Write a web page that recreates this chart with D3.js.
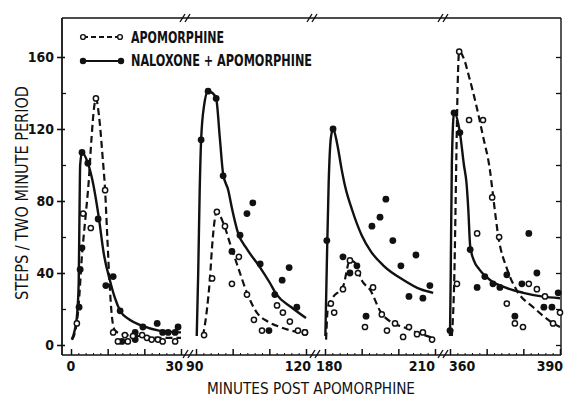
<!DOCTYPE html>
<html><head><meta charset="utf-8">
<script src="https://cdn.jsdelivr.net/npm/d3@7/dist/d3.min.js"></script>
<style>
html,body{margin:0;padding:0;background:#fff;}
text{font-family:"Liberation Sans Narrow","DejaVu Sans Condensed","Arial Narrow",sans-serif;font-weight:bold;fill:#111;}
</style></head><body>
<svg id="c" width="564" height="400"></svg>
<script>
// ---- data ----
const segments = [[0,30],[90,120],[180,210],[360,390]];
const yTickLabels = [0,40,80,120,160];
const xTickLabels = ["0","30","90","120","180","210","360","390"];
const xTickValues = [0,30,90,120,180,210,360,390];
const legendLabels = ["APOMORPHINE","NALOXONE + APOMORPHINE"];
const xTitle = "MINUTES POST APOMORPHINE";
const yTitle = "STEPS / TWO MINUTE PERIOD";

// Apomorphine (open circles)
const apoPointsT = [1.6,3.3,5.4,6.8,9.3,11.5,12.8,14.7,15.5,16.9,19.4,20.7,22,23.7,25,28.4,
  92.2,94.4,95.7,97.9,101.7,99.8,103.9,105.8,108,112.1,113.7,115.6,117.8,119.7,
  181.6,182.5,184.9,186.8,189,193.1,190.9,195.5,196.9,199.1,201.3,202.9,205.1,206.7,209.2,
  362.5,365.2,369,371.5,361.9,367.4,373.4,375.5,377.7,379.9,381.5,383.7,385.9,388.1,390];
const apoPointsV = [12,73,65,137,86,7,2,5.5,2,5,5.5,4,3,3,2,2,
  5.5,37,74,66,49,34,28,14,8,22,18,13,8,7,
  23,18,31,47,40,32,10,17,8,12,4.5,10,6,7,3,
  163,125,125,82,34,62,60,23,12,10,34,31,27,12,18];
// Naloxone + apomorphine (filled circles)
const nalPointsT = [2.2,2.5,3,3,4.6,7.4,9.5,11.5,13.4,13.9,17.5,17.5,19.6,23.5,25,26.5,28.4,29.2,
  93.3,95.5,91.4,97.4,105.5,103.9,102,99.8,107.5,115.4,113.5,111.5,117.5,109.9,119.7,
  182.2,180.5,184.9,186.8,188.7,191.2,192.8,195,196.6,198.5,200.7,204.8,202.9,206.7,208.6,
  360,361.1,362.7,365.5,369.5,367.4,371.7,373.6,375.5,377.7,379.6,381.5,383.7,385.6,387.8,389.5];
const nalPointsV = [21,42,54,107,101,70,33,38,19,2,7,3,10,12,7,7,7,10,
  141,137,114,94,79,73,61,52,45,43,36,28,21,8,7,
  120,58,49,40,44,16,66,71,81,58,44,50,27,26,33,
  8,129,118,53,38,32,34,32,39,16,34,62,40,21,21,29];

// fitted curves
const apoCurveT = [0.3,1.2,2,3,4,4.8,5.6,6.3,6.8,7.6,8.6,9.3,9.9,10.5,11.2,12,14,18,24,30,
  91.9,93,93.8,94.4,95,95.7,97.4,99.5,101.5,103.9,106.6,109.6,112.9,116,120,
  180.3,180.8,182,185,186.8,188,190,192.5,195,198.6,201.3,205,209.3,
  360.5,361.2,361.7,362.1,362.5,363.8,365.2,367.3,369,370.9,371.8,373.2,375.6,378.3,382.7,388.2,390];
const apoCurveV = [3,8,20,50,72,90,115,132,137,128,105,86,60,35,15,8,6,5,4,4,
  5,20,37,55,68,74,68,55,43,29,18,13,10,8,6,
  3,21,26,33,47,46,36,30,19,12,10,7,4,
  5,40,100,145,163,159,149,132,116,97,82,60,42,30,21,12,10];
const nalCurveT = [0.2,1,1.7,2.1,2.3,2.5,3,4.6,6,7.5,9,10.6,12,13.4,16,19,24,30,
  90.2,90.6,91,91.4,92.2,93.3,94.5,95.5,96.5,97.4,98.8,99.8,101.5,104,107.5,110,112,116,120,
  180.1,180.5,181,181.6,182.2,183.3,184.5,185.5,187.4,190,192.5,196,201.5,206,209.5,
  360,360.2,360.5,361.1,362.7,363.8,364.5,365,365.5,366.5,368,371,375,380,385,390];
const nalCurveV = [3,8,18,35,70,100,107,101,90,72,50,36,26,19,14,11,8,7,
  5,40,85,114,133,141,140,137,115,95,86,76,62,53,43,35,28,21,15,
  5,45,90,115,120,112,98,88,75,61,52,44,36,31,29,
  5,40,100,129,118,100,90,75,55,47,42,36,32,29,27,26];

// ---- drawing ----
const svg = d3.select("#c");
const x = d3.scaleLinear().domain([0,30,90,120,180,210,360,390]).range([71,181,196,306,325,435,450,560]);
const y = d3.scaleLinear().domain([0,160]).range([345,57]);
const L = 62, R = 561, T = 18, B = 355;
const ink = "#111";

// frame
svg.append("line").attr("x1",L).attr("x2",R).attr("y1",B).attr("y2",B).attr("stroke",ink).attr("stroke-width",1.6);
svg.append("line").attr("x1",L).attr("x2",R).attr("y1",T).attr("y2",T).attr("stroke",ink).attr("stroke-width",1.4);
svg.append("line").attr("x1",L).attr("x2",L).attr("y1",T).attr("y2",B).attr("stroke",ink).attr("stroke-width",1.8);
svg.append("line").attr("x1",R).attr("x2",R).attr("y1",T).attr("y2",B).attr("stroke",ink).attr("stroke-width",1.4);

// y axis (left)
const yAx = svg.append("g").attr("transform",`translate(${L},0)`)
  .call(d3.axisLeft(y).tickValues(yTickLabels).tickSize(5).tickPadding(3).tickFormat(d3.format("d")));
yAx.select(".domain").remove();
yAx.selectAll(".tick line").attr("stroke",ink).attr("stroke-width",1.6).attr("x2",-5).attr("x1",3);
yAx.selectAll(".tick text").attr("font-size",14).attr("fill",ink).attr("font-family",null);
const yMinor = svg.append("g").attr("transform",`translate(${L},0)`)
  .call(d3.axisRight(y).tickValues([20,60,100,140]).tickSize(4).tickFormat(""));
yMinor.select(".domain").remove();
yMinor.selectAll(".tick line").attr("stroke",ink).attr("stroke-width",1.3);
// right axis ticks
const yR = svg.append("g").attr("transform",`translate(${R},0)`)
  .call(d3.axisLeft(y).tickValues([0,20,40,60,80,100,120,140,160]).tickSize(5).tickFormat(""));
yR.select(".domain").remove();
yR.selectAll(".tick line").attr("stroke",ink).attr("stroke-width",1.3);

// x axis ticks per segment
segments.forEach(s=>{
  const major = d3.range(s[0], s[1]+0.1, 10);
  const minor = d3.range(s[0], s[1]+0.1, 2).filter(v=>(v-s[0])%10!==0);
  const gM = svg.append("g").attr("transform",`translate(0,${B})`)
    .call(d3.axisBottom(x).tickValues(major).tickSize(-6).tickFormat(""));
  gM.select(".domain").remove();
  gM.selectAll(".tick line").attr("stroke",ink).attr("stroke-width",1.5);
  const gm = svg.append("g").attr("transform",`translate(0,${B})`)
    .call(d3.axisBottom(x).tickValues(minor).tickSize(-2).tickFormat(""));
  gm.select(".domain").remove();
  gm.selectAll(".tick line").attr("stroke",ink).attr("stroke-width",1);
});
// x tick labels
const labAnchor = ["middle","end","start","end","start","end","start","end"];
const labShift = [0,2,-10,5,-9,0,-1,3];
svg.selectAll("text.xl").data(xTickLabels).join("text").attr("class","xl")
  .attr("x",(d,i)=>x(xTickValues[i])+labShift[i]).attr("y",371)
  .attr("text-anchor",(d,i)=>labAnchor[i]).attr("font-size",14).text(d=>d);

// axis break marks
function brk(cx, cy){
  [-2.5,2.5].forEach(o=>svg.append("line").attr("x1",cx+o-2.5).attr("y1",cy+4).attr("x2",cx+o+2.5).attr("y2",cy-4)
    .attr("stroke",ink).attr("stroke-width",1.4));
}
[[188,B-1],[315,B-1],[443,B-1],[185,T],[312,T],[443,T]].forEach(p=>brk(p[0],p[1]));

// curves
const clipLine = d3.line().x(d=>x(d[0])).y(d=>y(d[1])).curve(d3.curveMonotoneX);
function drawCurve(T_, V_, dashed){
  segments.forEach(s=>{
    const pts = T_.map((t,i)=>[t,V_[i]]).filter(p=>p[0]>=s[0]-0.01 && p[0]<=s[1]+0.01);
    svg.append("path").datum(pts).attr("d",clipLine).attr("fill","none").attr("stroke",ink)
      .attr("stroke-width",dashed?2.2:2.4).attr("stroke-dasharray",dashed?"7,4":null)
      .attr("stroke-linecap","butt");
  });
}
drawCurve(apoCurveT, apoCurveV, true);
drawCurve(nalCurveT, nalCurveV, false);

// points
svg.append("g").selectAll("circle").data(nalPointsT.map((t,i)=>[t,nalPointsV[i]])).join("circle")
  .attr("cx",d=>x(d[0])).attr("cy",d=>y(d[1])).attr("r",3.4).attr("fill",ink);
svg.append("g").selectAll("circle").data(apoPointsT.map((t,i)=>[t,apoPointsV[i]])).join("circle")
  .attr("cx",d=>x(d[0])).attr("cy",d=>y(d[1])).attr("r",2.6).attr("fill","#fff").attr("stroke",ink).attr("stroke-width",1.5);

// legend
const lg = svg.append("g");
lg.append("line").attr("x1",83).attr("x2",120).attr("y1",37).attr("y2",37).attr("stroke",ink).attr("stroke-width",1.8).attr("stroke-dasharray","5,3");
[83,120].forEach(cx=>lg.append("circle").attr("cx",cx).attr("cy",37).attr("r",2.4).attr("fill","#fff").attr("stroke",ink).attr("stroke-width",1.4));
lg.append("line").attr("x1",83).attr("x2",121).attr("y1",61).attr("y2",61).attr("stroke",ink).attr("stroke-width",2.2);
[83,121].forEach(cx=>lg.append("circle").attr("cx",cx).attr("cy",61).attr("r",3.2).attr("fill",ink));
lg.append("text").attr("x",131).attr("y",43).attr("font-size",15).attr("textLength",93).attr("lengthAdjust","spacingAndGlyphs").text(legendLabels[0]);
lg.append("text").attr("x",131).attr("y",66).attr("font-size",15).attr("textLength",181).attr("lengthAdjust","spacingAndGlyphs").text(legendLabels[1]);

// titles
svg.append("text").attr("x",311).attr("y",394).attr("text-anchor","middle").attr("font-size",16)
  .attr("textLength",208).attr("lengthAdjust","spacingAndGlyphs").style("font-weight","normal").text(xTitle);
svg.append("text").attr("transform","translate(28,193) rotate(-90)").attr("text-anchor","middle").attr("font-size",18)
  .attr("textLength",214).attr("lengthAdjust","spacingAndGlyphs").style("font-weight","normal").text(yTitle);
</script></body></html>
